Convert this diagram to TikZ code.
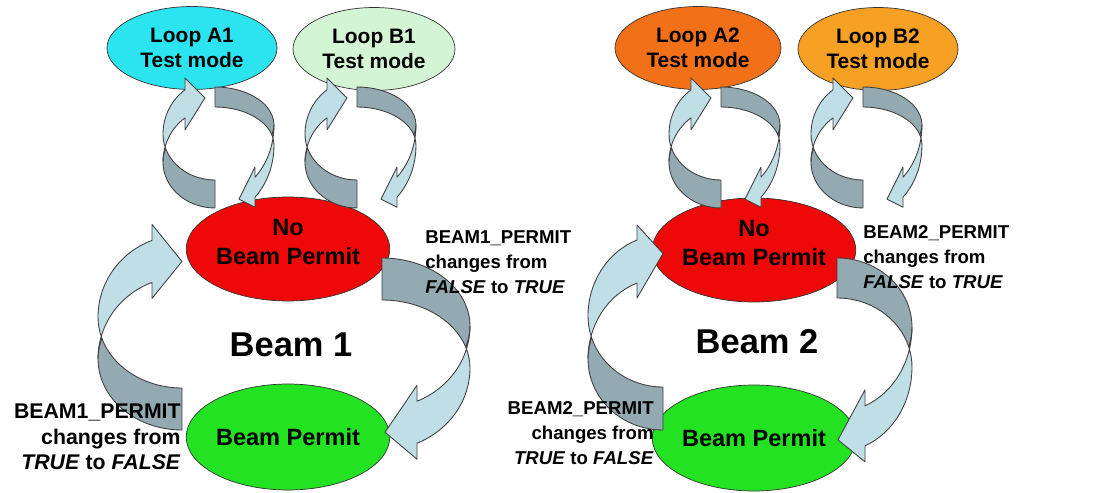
\documentclass[tikz,border=0pt]{standalone}
\usepackage{fontspec}
\setmainfont{Liberation Sans}
\usetikzlibrary{shapes.geometric}

\definecolor{loopcyan}{RGB}{44,228,240}
\definecolor{loopmint}{RGB}{212,245,212}
\definecolor{looporange}{RGB}{242,112,24}
\definecolor{loopamber}{RGB}{246,160,36}
\definecolor{permitred}{RGB}{238,8,8}
\definecolor{permitgreen}{RGB}{34,226,34}
\definecolor{armlight}{RGB}{192,222,230}
\definecolor{armdark}{RGB}{148,170,178}

\tikzset{
    state/.style={
           ellipse,
           draw=black!80, thin,
           inner sep=0pt,
           align=center,
           font=\fontsize{13.4}{16.4}\selectfont\bfseries
           },
    loopstate/.style={
           state,
           minimum height=1.66cm,
           font=\fontsize{11.9}{14.2}\selectfont\bfseries
           },
    cond/.style={
           inner sep=0pt,
           font=\fontsize{10.6}{14.2}\selectfont\bfseries
           },
    beam/.style={
           font=\fontsize{19.6}{22}\selectfont\bfseries
           },
    armfront/.style={fill=armlight, draw=black!75, line width=0.5pt, line join=round},
    armback/.style={fill=armdark, draw=black!75, line width=0.5pt, line join=round}
}

% twisted block arrow, origin = centre of the upper ellipse, tail on the right
% #1 x radius, #2 y radius (tail half), #3 y radius (head half), #4 band width,
% #5 head base left of the tail, #6 head length, #7 head overhang, #8 tip lift
\newcommand{\twistarrow}[8]{%
  \pgfmathsetmacro\twA{asin(#4/(2*#2))}%
  \pgfmathsetmacro\twG{180+acos(#5/#1)}%
  \pgfmathsetmacro\twPx{-#1*cos(\twA)}%
  \pgfmathsetmacro\twHx{#1*cos(\twG)}%
  \pgfmathsetmacro\twHy{#3*sin(\twG)}%
  % back face, down to the tail
  \filldraw[armback] (\twPx,#4/2)
     arc[start angle=180+\twA, end angle=90, x radius=#1, y radius=#2]
     -- (0,#2)
     arc[start angle=90, end angle=180-\twA, x radius=#1, y radius=#2] -- cycle;
  % front face with the head
  \filldraw[armfront] (\twPx,#4/2)
     arc[start angle=180-\twA, end angle=180, x radius=#1, y radius=#2]
     arc[start angle=180, end angle=\twG, x radius=#1, y radius=#3]
     -- (\twHx,\twHy-#7)
     -- (\twHx+#6,\twHy+#4/2-#8)
     -- (\twHx,\twHy+#4+#7)
     -- (\twHx,\twHy+#4)
     arc[start angle=\twG, end angle=180, x radius=#1, y radius=#3]
     arc[start angle=180, end angle=180+\twA, x radius=#1, y radius=#2] -- cycle;
}

\begin{document}
\begin{tikzpicture}[x=0.02cm, y=-0.02cm]
   \useasboundingbox (0,0) rectangle (1093,493);

   % beam 1
   \node[loopstate, fill=loopcyan, minimum width=3.4cm]  (loopA1) at (192,48) {Loop A1\\Test mode};
   \node[loopstate, fill=loopmint, minimum width=3.24cm] (loopB1) at (374,49) {Loop B1\\Test mode};
   \node[state, fill=permitred, text depth=8pt, minimum width=3.92cm, minimum height=2.08cm] (nobeam1) at (288,249) {No\\Beam Permit};
   \node[state, fill=permitgreen, minimum width=3.92cm, minimum height=2.12cm] (permit1) at (288,437) {Beam Permit};

   % beam 2
   \node[loopstate, fill=looporange, minimum width=3.32cm] (loopA2) at (698,48) {Loop A2\\Test mode};
   \node[loopstate, fill=loopamber, minimum width=3.2cm]   (loopB2) at (878,49) {Loop B2\\Test mode};
   \node[state, fill=permitred, text depth=8pt, minimum width=3.36cm, minimum height=2.08cm] (nobeam2) at (754,250) {No\\Beam Permit};
   \node[state, fill=permitgreen, minimum width=3.36cm, minimum height=2.12cm] (permit2) at (754,438) {Beam Permit};

   % big arrows between permit states
   \begin{scope}[shift={(182,317)}]\twistarrow{84}{71}{82}{42}{30}{30}{16}{0}\end{scope}
   \begin{scope}[shift={(382,368)},rotate=180]\twistarrow{88}{68}{82}{42}{35}{32}{16}{10}\end{scope}
   \begin{scope}[shift={(663,316)}]\twistarrow{75}{71}{81}{43}{26}{26}{15}{8}\end{scope}
   \begin{scope}[shift={(837,367)},rotate=180]\twistarrow{75}{69}{85}{40}{28}{27}{16}{14}\end{scope}

   % test mode loops
   \foreach \cx in {220,362,726,868}{
      \begin{scope}[shift={(\cx-5,134)}]\twistarrow{52}{46}{54}{28}{30}{20}{12}{6}\end{scope}
      \begin{scope}[shift={(\cx-5,145)},rotate=180]\twistarrow{59}{38}{71}{20}{40}{16}{10}{12}\end{scope}
   }

   \node[beam] (title1) at (291,345) {Beam 1};
   \node[beam] (title2) at (757,342) {Beam 2};

   \node[cond, anchor=west, align=left] (up1) at (425,262)
      {BEAM1\_PERMIT\\changes from\\\textit{FALSE} to \textit{TRUE}};
   \node[cond, anchor=east, align=right, font=\fontsize{12.1}{14.5}\selectfont\bfseries] (down1) at (181,437)
      {BEAM1\_PERMIT\\changes from\\\textit{TRUE} to \textit{FALSE}};
   \node[cond, anchor=west, align=left] (up2) at (863,257)
      {BEAM2\_PERMIT\\changes from\\\textit{FALSE} to \textit{TRUE}};
   \node[cond, anchor=east, align=right] (down2) at (654,433)
      {BEAM2\_PERMIT\\changes from\\\textit{TRUE} to \textit{FALSE}};
\end{tikzpicture}
\end{document}
